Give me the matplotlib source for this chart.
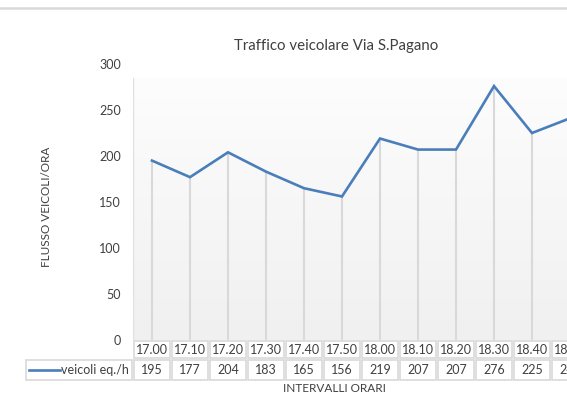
import matplotlib.pyplot as plt
import numpy as np
from matplotlib.colors import LinearSegmentedColormap
from matplotlib.lines import Line2D
from matplotlib.patches import Rectangle

# dati: intervalli orari e flusso veicolare
intervalli = ['17.00', '17.10', '17.20', '17.30', '17.40', '17.50',
              '18.00', '18.10', '18.20', '18.30', '18.40', '18.50']
veicoli = [195, 177, 204, 183, 165, 156, 219, 207, 207, 276, 225, 241]
serie = 'veicoli eq./h'

W, H = 567, 394
plt.rcParams['font.family'] = ['Lato', 'DejaVu Sans']
fig = plt.figure(figsize=(W / 100, H / 100), dpi=100)


def fx(px):
    return px / W


def fy(py):
    return 1 - py / H


# area del grafico (continua oltre il bordo destro)
left, right, top, bottom = 133, 589, 64, 340
ax = fig.add_axes([fx(left), fy(bottom), fx(right - left), (bottom - top) / H])
x = np.arange(len(intervalli))
ax.set_xlim(-0.5, len(intervalli) - 0.5)
ax.set_ylim(0, 300)
ax.patch.set_alpha(0)
for s in ax.spines.values():
    s.set_visible(False)

# sfondo sfumato dell'area di tracciamento
grad = LinearSegmentedColormap.from_list('g', ['#f0f0f0', '#fdfdfd'])
ax.imshow(np.linspace(0, 1, 256).reshape(-1, 1), cmap=grad, origin='lower',
          extent=(-0.5, len(intervalli) - 0.5, 0, 285), aspect='auto', zorder=0)
ax.axvline(-0.5, ymax=285 / 300, color='#e0e0e0', lw=1, zorder=1)

# linee di proiezione e serie
ax.vlines(x, 0, veicoli, color='#d9d9d9', lw=1.5, zorder=2)
ax.plot(x, veicoli, color='#4a7ebb', lw=1.9, zorder=3, solid_joinstyle='miter')

ax.set_yticks(np.arange(0, 301, 50))
ax.tick_params(axis='y', length=0, pad=8.5, labelsize=9, labelcolor='#404040')
ax.set_xticks([])

fig.text(fx(336), fy(46), 'Traffico veicolare Via S.Pagano', ha='center',
         va='center', fontsize=10.8, color='#404040')
fig.text(fx(47), fy(207), 'FLUSSO VEICOLI/ORA', rotation=90, ha='center',
         va='center', fontsize=8.5, color='#404040')
fig.text(fx(334), fy(389), 'INTERVALLI ORARI', ha='center', va='center',
         fontsize=8.5, color='#404040')

# bordo superiore del riquadro
fig.add_artist(Line2D([0, 1], [fy(8), fy(8)], color='#d9d9d9', lw=1.8))

# tabella dati sotto l'asse
cell_w = (right - left) / len(intervalli)
rows = [(340, 359), (359, 381)]


def cella(x0, x1, y0, y1):
    fig.add_artist(Rectangle((fx(x0 + 1), fy(y1 - 1)), fx(x1 - x0 - 2),
                             (y1 - y0 - 2) / H, facecolor='white',
                             edgecolor='#d9d9d9', lw=1.2))


for i, (lab, v) in enumerate(zip(intervalli, veicoli)):
    x0 = left + i * cell_w
    xc = x0 + cell_w / 2
    for (y0, y1), txt in zip(rows, [lab, str(v)]):
        cella(x0, x0 + cell_w, y0, y1)
        fig.text(fx(xc), fy((y0 + y1) / 2), txt, ha='center', va='center',
                 fontsize=9, color='#404040')

cella(25, left, *rows[1])
fig.add_artist(Line2D([fx(29), fx(60)], [fy(370), fy(370)], color='#4a7ebb', lw=1.9))
fig.text(fx(61), fy(370), serie, ha='left', va='center', fontsize=9,
         color='#404040')

fig.savefig('out.png', dpi=100)
